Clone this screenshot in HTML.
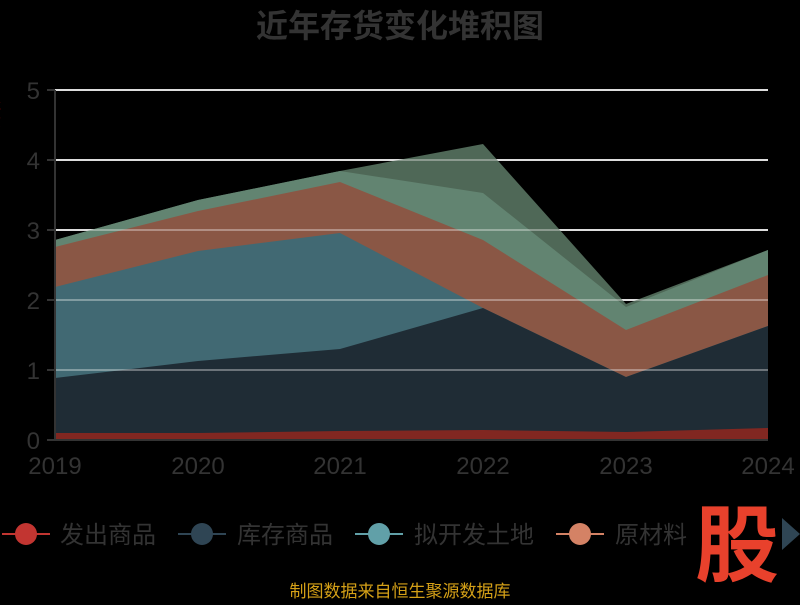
<!DOCTYPE html>
<html><head><meta charset="utf-8"><style>
body{margin:0;background:#000;width:800px;height:600px;overflow:hidden;font-family:"Liberation Sans","Noto Sans CJK SC",sans-serif}
</style></head><body>
<svg width="800" height="600" xmlns="http://www.w3.org/2000/svg" font-family="Liberation Sans, Noto Sans CJK SC, sans-serif">
<rect width="800" height="600" fill="#000"/>
<text x="400" y="37" text-anchor="middle" font-size="32" font-weight="bold" fill="#333">近年存货变化堆积图</text>
<text x="-6" y="100" font-size="14" fill="#c00" writing-mode="tb" opacity="0.8">存货</text>
<g stroke="#ddd" stroke-width="2">
<line x1="55" y1="90" x2="768" y2="90"/><line x1="55" y1="160" x2="768" y2="160"/>
<line x1="55" y1="230" x2="768" y2="230"/><line x1="55" y1="300" x2="768" y2="300"/>
<line x1="55" y1="370" x2="768" y2="370"/>
</g>
<g opacity="0.93">
<polygon fill="#56705e" points="55,240 198,200 340,171 483,144 626,304 768,250 768,440 55,440"/>
<polygon fill="#6a8f7a" points="55,240 198,200 340,171 483,193 626,307 768,250 768,440 55,440"/>
<polygon fill="#955e4b" points="55,247 198,211 340,182 483,240 626,330 768,275 768,440 55,440"/>
<polygon fill="#46727c" points="55,287 198,251 340,233 483,308 626,377 768,326 768,440 55,440"/>
<polygon fill="#22303a" points="55,378 198,361 340,349 483,308 626,377 768,326 768,440 55,440"/>
<polygon fill="#8b2a24" points="55,433 198,433 340,431 483,430 626,432 768,428 768,440 55,440"/>
</g>
<g stroke="#ddd" stroke-width="2" opacity="0.35">
<line x1="55" y1="160" x2="768" y2="160"/><line x1="55" y1="230" x2="768" y2="230"/>
<line x1="55" y1="300" x2="768" y2="300"/><line x1="55" y1="370" x2="768" y2="370"/>
</g>
<line x1="55" y1="90" x2="55" y2="440" stroke="#333" stroke-width="2"/>
<line x1="55" y1="440" x2="768" y2="440" stroke="#333" stroke-width="2"/>
<g stroke="#333" stroke-width="2">
<line x1="47" y1="90" x2="55" y2="90"/><line x1="47" y1="160" x2="55" y2="160"/><line x1="47" y1="230" x2="55" y2="230"/>
<line x1="47" y1="300" x2="55" y2="300"/><line x1="47" y1="370" x2="55" y2="370"/><line x1="47" y1="440" x2="55" y2="440"/>
</g>
<g font-size="24" fill="#333" text-anchor="end">
<text x="40" y="99">5</text><text x="40" y="169">4</text><text x="40" y="239">3</text>
<text x="40" y="309">2</text><text x="40" y="379">1</text><text x="40" y="449">0</text>
</g>
<g font-size="24" fill="#333" text-anchor="middle">
<text x="55" y="474">2019</text><text x="198" y="474">2020</text><text x="340" y="474">2021</text>
<text x="483" y="474">2022</text><text x="626" y="474">2023</text><text x="768" y="474">2024</text>
</g>
<g font-size="24" fill="#333">
<line x1="2" y1="534" x2="50" y2="534" stroke="#c23531" stroke-width="2"/><ellipse cx="26" cy="534" rx="11" ry="11" fill="#c23531"/>
<text x="60" y="543">发出商品</text>
<line x1="178" y1="534" x2="226" y2="534" stroke="#2f4554" stroke-width="2"/><ellipse cx="202" cy="534" rx="11" ry="11" fill="#2f4554"/>
<text x="237" y="543">库存商品</text>
<line x1="355" y1="534" x2="403" y2="534" stroke="#61a0a8" stroke-width="2"/><ellipse cx="379" cy="534" rx="11" ry="11" fill="#61a0a8"/>
<text x="414" y="543">拟开发土地</text>
<line x1="556" y1="534" x2="604" y2="534" stroke="#d48265" stroke-width="2"/><ellipse cx="580" cy="534" rx="11" ry="11" fill="#d48265"/>
<text x="615" y="543">原材料</text>
</g>
<polygon points="782,518 800,534 782,550" fill="#2f4554"/>
<text x="737" y="575" text-anchor="middle" font-size="84" font-weight="bold" fill="#e8412c">股</text>
<text x="400" y="597" text-anchor="middle" font-size="17" fill="#d4a017">制图数据来自恒生聚源数据库</text>
</svg>
</body></html>
